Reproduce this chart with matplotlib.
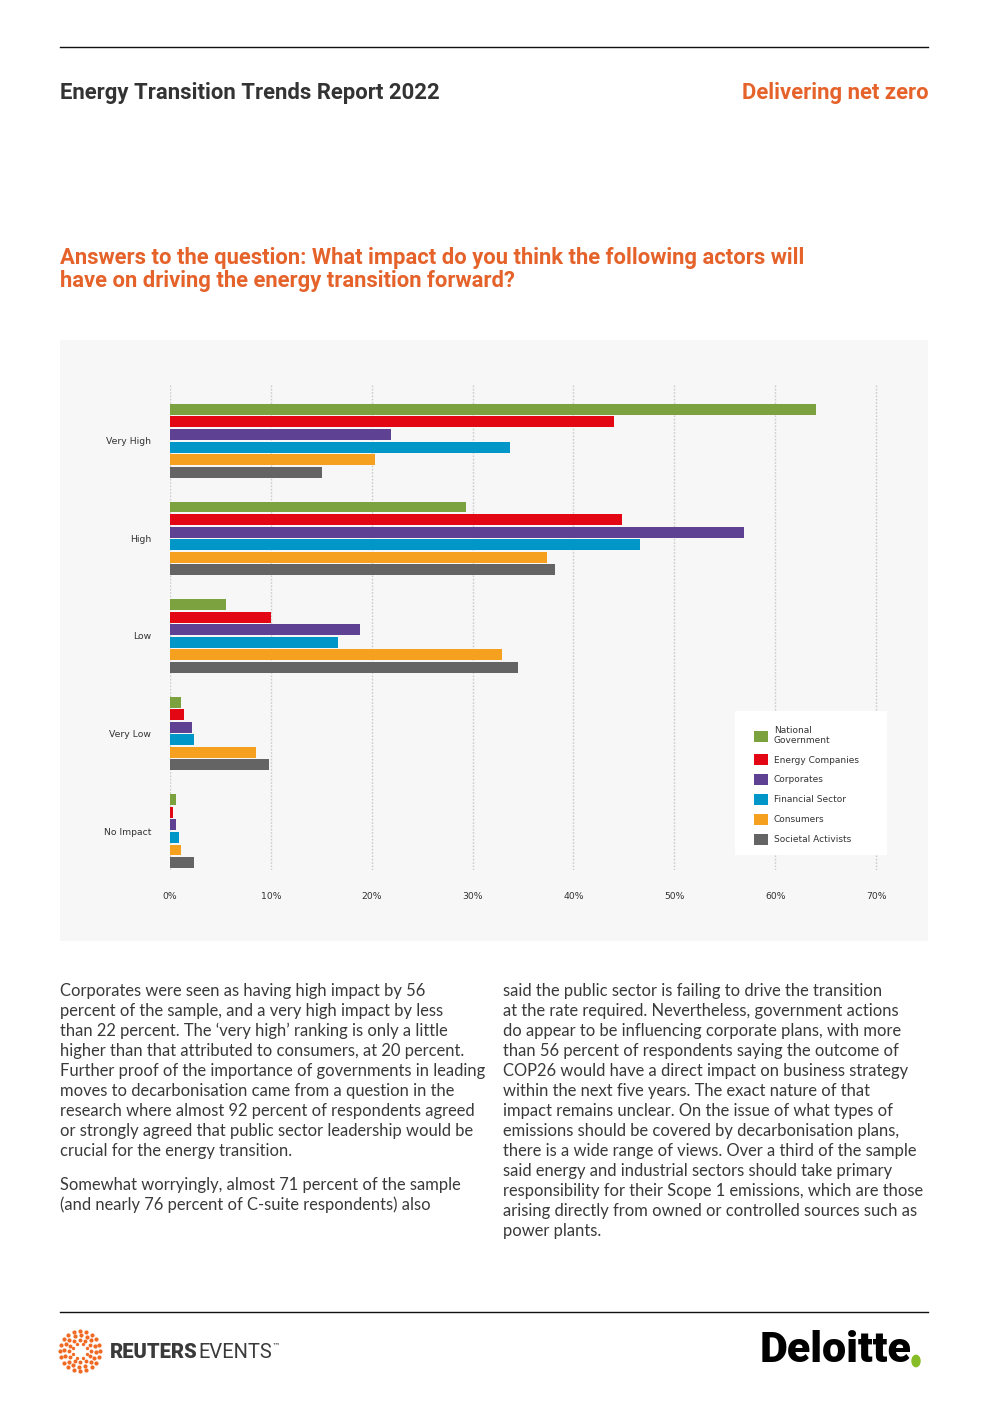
import numpy as np
import matplotlib
matplotlib.use("Agg")
import matplotlib.pyplot as plt
from matplotlib.patches import Rectangle, Patch, Circle
from matplotlib.lines import Line2D

# ---------------- data ----------------
categories = ["Very High", "High", "Low", "Very Low", "No Impact"]
actors = ["National\nGovernment", "Energy Companies", "Corporates",
          "Financial Sector", "Consumers", "Societal Activists"]
national_government = [64.0, 29.3, 5.6, 1.1, 0.6]
energy_companies = [44.0, 44.8, 10.0, 1.4, 0.3]
corporates = [21.9, 56.9, 18.8, 2.2, 0.6]
financial_sector = [33.7, 46.6, 16.7, 2.4, 0.9]
consumers = [20.3, 37.4, 32.9, 8.5, 1.1]
societal_activists = [15.1, 38.2, 34.5, 9.8, 2.4]
x_ticks = [0, 10, 20, 30, 40, 50, 60, 70]
x_tick_labels = ["0%", "10%", "20%", "30%", "40%", "50%", "60%", "70%"]

series = [national_government, energy_companies, corporates,
          financial_sector, consumers, societal_activists]
colors = ["#7BA23F", "#E30613", "#5F4194", "#0096C8", "#F5A01E", "#646464"]

W, H = 993, 1404
fig = plt.figure(figsize=(W / 100, H / 100), dpi=100)
fig.patch.set_facecolor("white")

def fx(x):
    return x / W

def fy(y):
    return 1 - y / H

DARK = "#333333"
ORANGE = "#E5622A"
BODY_FONT = ["Lato", "DejaVu Sans"]
HEAD_FONT = ["Roboto", "DejaVu Sans"]

# ---------------- header ----------------
fig.add_artist(Line2D([fx(60), fx(928)], [fy(47), fy(47)], color="#111111", lw=1.0))
fig.text(fx(60), fy(93), "Energy Transition Trends Report 2022", fontsize=15.9,
         fontweight="bold", color=DARK, family=HEAD_FONT, va="center", ha="left")
fig.text(fx(929), fy(93), "Delivering net zero", fontsize=15.9,
         fontweight="bold", color=ORANGE, family=HEAD_FONT, va="center", ha="right")

fig.text(fx(60), fy(258), "Answers to the question: What impact do you think the following actors will",
         fontsize=15.8, fontweight="bold", color=ORANGE, family=HEAD_FONT, va="center", ha="left")
fig.text(fx(60), fy(281), "have on driving the energy transition forward?",
         fontsize=15.8, fontweight="bold", color=ORANGE, family=HEAD_FONT, va="center", ha="left")

# ---------------- chart panel ----------------
fig.add_artist(Rectangle((fx(60), fy(941)), fx(928) - fx(60), fy(340) - fy(941),
                         transform=fig.transFigure, facecolor="#F7F7F7",
                         edgecolor="none", zorder=0))

px_per_unit = 10.086
x_max = 70.4
ax_left, ax_top, ax_bottom = 170, 385, 870
ax_right = ax_left + x_max * px_per_unit
ax = fig.add_axes([fx(ax_left), fy(ax_bottom), fx(ax_right) - fx(ax_left),
                   fy(ax_top) - fy(ax_bottom)])
ax.patch.set_alpha(0)

group_px = 98.0
bar_pitch = 12.6 / group_px
bar_h = 11.0 / group_px
y = np.arange(len(categories))
n = len(series)
for i, (vals, c, lab) in enumerate(zip(series, colors, actors)):
    offs = (i - (n - 1) / 2) * bar_pitch
    ax.barh(y + offs, vals, height=bar_h, color=c, label=lab, zorder=3)

ax.set_xlim(0, x_max)
top_units = (441 - ax_top) / group_px
bot_units = (ax_bottom - 831) / group_px
ax.set_ylim(4 + bot_units, -top_units)

ax.set_xticks(x_ticks)
ax.set_xticklabels(x_tick_labels)
ax.set_yticks(y)
ax.set_yticklabels(categories)
ax.tick_params(axis="both", length=0, labelsize=6.7, colors=DARK)
ax.tick_params(axis="x", pad=15.5)
ax.tick_params(axis="y", pad=13.5)
for sp in ax.spines.values():
    sp.set_visible(False)
ax.grid(axis="x", color="#CCCCCC", linestyle=(0, (1.2, 1.2)), lw=1.0, zorder=1)
ax.grid(axis="y", visible=False)

# legend box
fig.add_artist(Rectangle((fx(735), fy(855)), fx(887) - fx(735), fy(711) - fy(855),
                         transform=fig.transFigure, facecolor="white",
                         edgecolor="none", zorder=4))
handles = [Patch(facecolor=c, edgecolor="none") for c in colors]
leg = fig.legend(handles, actors, loc="upper left",
                 bbox_to_anchor=(fx(754), fy(726)), bbox_transform=fig.transFigure,
                 frameon=False, fontsize=6.5, handlelength=1.55, handleheight=1.55,
                 handletextpad=0.65, labelspacing=0.95, borderpad=0, borderaxespad=0)
leg.set_zorder(5)
for t in leg.get_texts():
    t.set_color(DARK)

# ---------------- body text ----------------
col1 = ["Corporates were seen as having high impact by 56",
        "percent of the sample, and a very high impact by less",
        "than 22 percent. The \u2018very high\u2019 ranking is only a little",
        "higher than that attributed to consumers, at 20 percent.",
        "Further proof of the importance of governments in leading",
        "moves to decarbonisation came from a question in the",
        "research where almost 92 percent of respondents agreed",
        "or strongly agreed that public sector leadership would be",
        "crucial for the energy transition."]
col1b = ["Somewhat worryingly, almost 71 percent of the sample",
         "(and nearly 76 percent of C-suite respondents) also"]
col2 = ["said the public sector is failing to drive the transition",
        "at the rate required. Nevertheless, government actions",
        "do appear to be influencing corporate plans, with more",
        "than 56 percent of respondents saying the outcome of",
        "COP26 would have a direct impact on business strategy",
        "within the next five years. The exact nature of that",
        "impact remains unclear. On the issue of what types of",
        "emissions should be covered by decarbonisation plans,",
        "there is a wide range of views. Over a third of the sample",
        "said energy and industrial sectors should take primary",
        "responsibility for their Scope 1 emissions, which are those",
        "arising directly from owned or controlled sources such as",
        "power plants."]

def body(lines, x0, y0):
    for k, line in enumerate(lines):
        fig.text(fx(x0), fy(y0 + 20 * k), line, fontsize=11.9, color="#3A3A3A",
                 family=BODY_FONT, va="center", ha="left")

body(col1, 60, 991)
body(col1b, 60, 1185)
body(col2, 503, 991)

# ---------------- footer ----------------
fig.add_artist(Line2D([fx(60), fx(928)], [fy(1312), fy(1312)], color="#111111", lw=1.0))

# Reuters logo (decorative ring of dots)
lax = fig.add_axes([fx(55), fy(1374), fx(105) - fx(55), fy(1328) - fy(1374)])
lax.set_xlim(-1.1, 1.1)
lax.set_ylim(-1.1, 1.1)
lax.set_aspect("equal")
lax.axis("off")
for r, nd, s in [(0.35, 8, 6), (0.55, 12, 8), (0.75, 16, 9), (0.95, 20, 9)]:
    th = np.linspace(0, 2 * np.pi, nd, endpoint=False) + r
    lax.scatter(r * np.cos(th), r * np.sin(th), s=s, color="#F06A23", lw=0)

fig.text(fx(110), fy(1352), "REUTERS", fontsize=14.5, fontweight="heavy",
         color="#3A3A3A", family=HEAD_FONT, va="center", ha="left")
fig.text(fx(198), fy(1352), "EVENTS", fontsize=14.5, color="#3A3A3A",
         family=HEAD_FONT, va="center", ha="left")
fig.text(fx(272), fy(1346), "\u2122", fontsize=6, color="#3A3A3A",
         family=["DejaVu Sans"], va="center", ha="left")

fig.text(fx(911), fy(1350), "Deloitte", fontsize=31, fontweight="heavy",
         color="black", family=["Roboto", "DejaVu Sans"], va="center", ha="right")
fig.add_artist(Circle((fx(916), fy(1361)), 4.0 / W,
                      transform=fig.transFigure, color="#86BC25"))

fig.savefig("out.png", dpi=100, facecolor="white")
